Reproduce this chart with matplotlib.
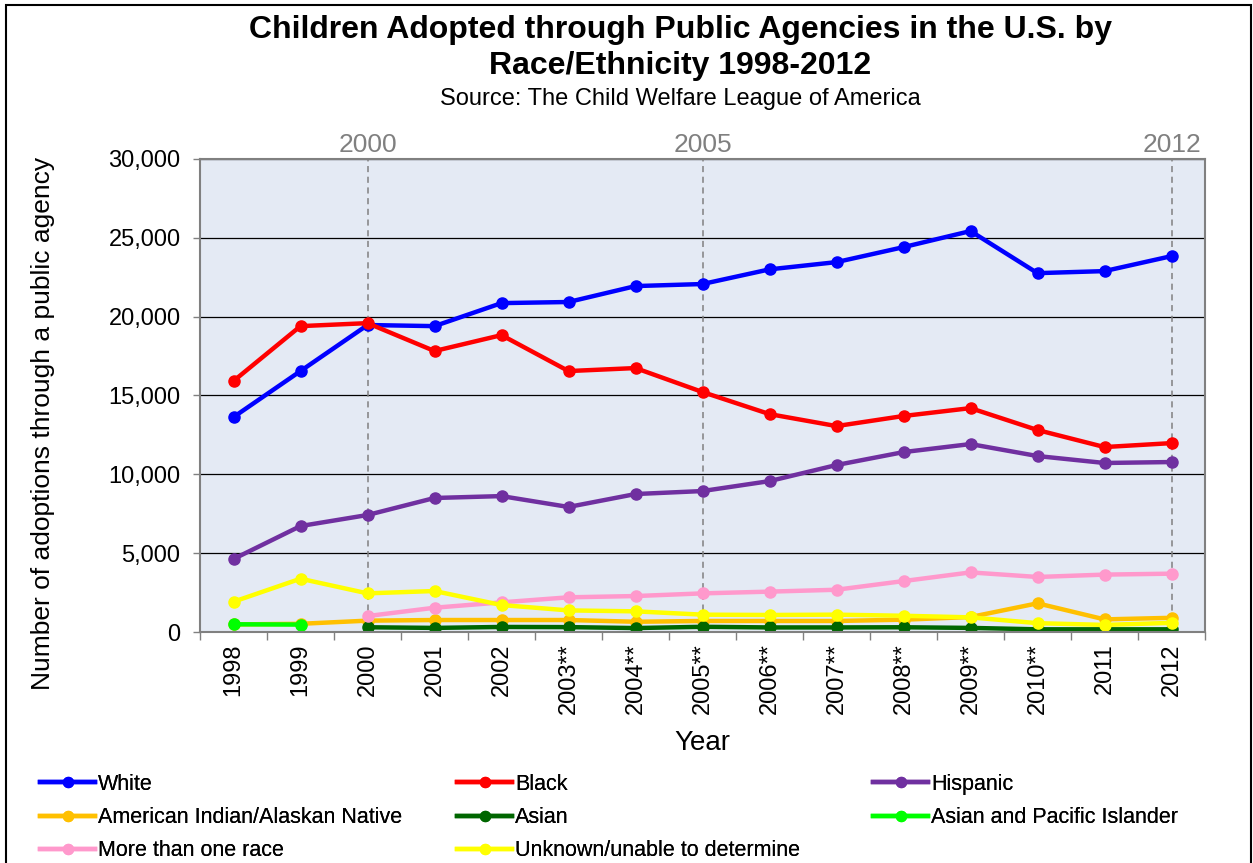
import numpy as np
import matplotlib
matplotlib.use("Agg")
import matplotlib.pyplot as plt
from matplotlib.ticker import FuncFormatter
from matplotlib.patches import Rectangle
from matplotlib.transforms import offset_copy

plt.rcParams['font.family'] = ['Liberation Sans', 'DejaVu Sans']

years = ["1998", "1999", "2000", "2001", "2002", "2003**", "2004**", "2005**",
         "2006**", "2007**", "2008**", "2009**", "2010**", "2011", "2012"]
nan = np.nan
white = [13630, 16550, 19470, 19400, 20860, 20930, 21940, 22070, 23000, 23460, 24410, 25430, 22760, 22890, 23840]
black = [15920, 19400, 19590, 17820, 18830, 16550, 16740, 15220, 13820, 13060, 13700, 14200, 12810, 11730, 11980]
hispanic = [4630, 6720, 7420, 8500, 8620, 7930, 8750, 8940, 9570, 10590, 11410, 11920, 11160, 10720, 10780]
am_indian = [480, 520, 720, 760, 760, 760, 650, 700, 700, 700, 780, 950, 1820, 800, 900]
asian = [nan, nan, 300, 260, 320, 310, 250, 330, 290, 290, 300, 260, 170, 170, 170]
api = [490, 470, nan, nan, nan, nan, nan, nan, nan, nan, nan, nan, nan, nan, nan]
multi = [nan, nan, 1010, 1540, 1880, 2200, 2280, 2450, 2560, 2680, 3230, 3780, 3490, 3640, 3700]
unknown = [1920, 3380, 2450, 2600, 1710, 1370, 1310, 1100, 1080, 1100, 1030, 930, 560, 450, 580]

series = [
    ("White", white, "#0000FF"),
    ("Black", black, "#FF0000"),
    ("Hispanic", hispanic, "#7030A0"),
    ("American Indian/Alaskan Native", am_indian, "#FFC000"),
    ("Asian", asian, "#006600"),
    ("Asian and Pacific Islander", api, "#00FF00"),
    ("More than one race", multi, "#FF99CC"),
    ("Unknown/unable to determine", unknown, "#FFFF00"),
]
marked_years = ["2000", "2005", "2012"]
marked_idx = [2, 7, 14]

W, H = 1253, 863
fig = plt.figure(figsize=(W / 100, H / 100), dpi=100)
fig.patches.append(Rectangle((6 / W, -0.01), (1251 - 6) / W, 1 - 5 / H + 0.01,
                             transform=fig.transFigure, fill=False,
                             edgecolor='black', linewidth=1.5))

ax = fig.add_axes([200 / W, 1 - 632 / H, 1005 / W, 473 / H])
ax.set_facecolor("#E4EAF4")
for s in ax.spines.values():
    s.set_color("#808080")
    s.set_linewidth(1.5)

x = np.arange(len(years))
handles = {}
for name, vals, col in series:
    h, = ax.plot(x, vals, color=col, lw=3.2, marker='o', markersize=8,
                 markeredgecolor=col, label=name, solid_joinstyle='round')
    handles[name] = h

for i in marked_idx:
    ax.axvline(i, color='#808080', lw=1.1, ls=(0, (4, 3)), zorder=1)

ax.set_ylim(0, 30000)
ax.set_xlim(-0.5, len(years) - 0.5)
ax.set_yticks(np.arange(0, 30001, 5000))
ax.yaxis.set_major_formatter(FuncFormatter(lambda v, p: f"{int(v):,}"))
ax.yaxis.grid(True, color='black', lw=0.9)
ax.set_axisbelow(True)
ax.tick_params(axis='y', labelsize=17, length=5, width=1, color='#808080', pad=9)

ax.set_xticks(np.arange(-0.5, len(years), 1))
ax.set_xticklabels([])
ax.set_xticks(x, minor=True)
ax.set_xticklabels(years, minor=True, rotation=90, fontsize=17)
ax.tick_params(axis='x', which='major', length=6, width=1, color='#808080')
ax.tick_params(axis='x', which='minor', length=0, pad=8)

ax.set_xlabel("Year", fontsize=20)
ax.xaxis.set_label_coords(0.5, -0.207)
ax.set_ylabel("Number of adoptions through a public agency", fontsize=19)
ax.yaxis.set_label_coords(-0.144, 0.44)

top_tr = offset_copy(ax.get_xaxis_transform(), fig=fig, x=0, y=1.5, units='points')
for i, lab in zip(marked_idx, marked_years):
    ax.text(i, 1.0, lab, transform=top_tr, ha='center',
            va='bottom', fontsize=19, color='#808080')

fig.text(680 / W, 1 - 30 / H, "Children Adopted through Public Agencies in the U.S. by",
         ha='center', va='center', fontsize=23, fontweight='bold')
fig.text(680 / W, 1 - 66 / H, "Race/Ethnicity 1998-2012",
         ha='center', va='center', fontsize=23, fontweight='bold')
fig.text(680 / W, 1 - 99 / H, "Source: The Child Welfare League of America",
         ha='center', va='center', fontsize=17)

cols = [["White", "American Indian/Alaskan Native", "More than one race"],
        ["Black", "Asian", "Unknown/unable to determine"],
        ["Hispanic", "Asian and Pacific Islander"]]
col_x = [40, 457, 873]
for names, cx in zip(cols, col_x):
    leg = fig.legend([handles[n] for n in names], names, loc='upper left',
                     bbox_to_anchor=(cx / W, 1 - 774 / H), frameon=False,
                     fontsize=15.5, handlelength=2.56, handletextpad=0.14,
                     labelspacing=0.56, borderpad=0, borderaxespad=0,
                     markerscale=0.9)
    fig.add_artist(leg)

fig.savefig("out.png", dpi=100)
